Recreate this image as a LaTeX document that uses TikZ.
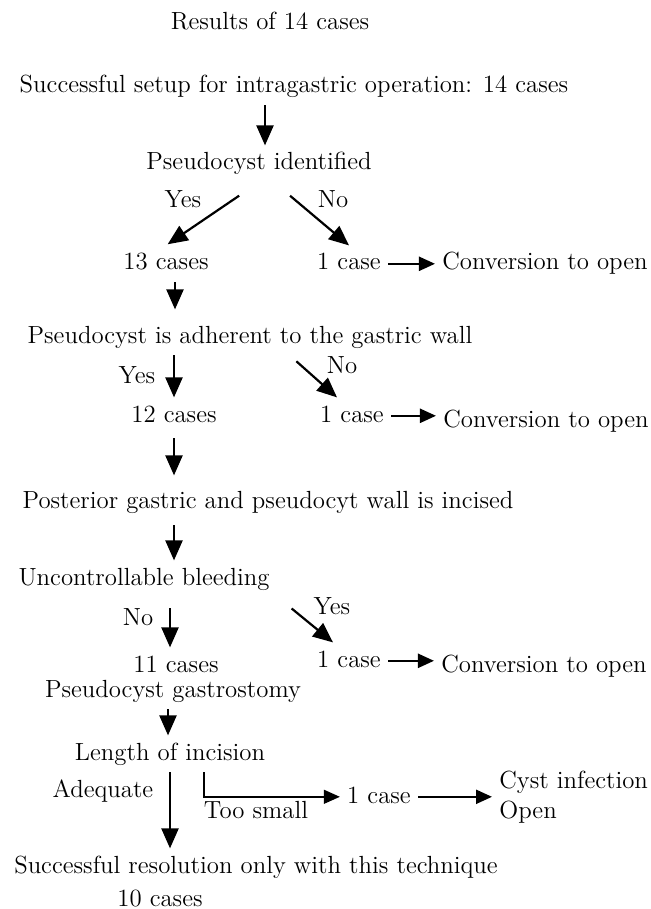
\documentclass[tikz,border=0pt]{standalone}
\usetikzlibrary{arrows.meta}
\begin{document}
\begin{tikzpicture}[x=0.5pt,y=-0.5pt,>={Triangle[length=10pt,width=8.5pt]},
  every node/.style={font=\fontsize{12.4}{15}\selectfont,inner sep=3.5pt,
    text height=8.6pt,text depth=2.4pt,anchor=base},
  arr/.style={->,line width=1.1pt},
  harr/.style={-{Triangle[length=8pt,width=7pt]},line width=1.1pt},
  thin arr/.style={-{Triangle[length=8pt,width=7pt]},line width=0.7pt}]
\useasboundingbox (0,0) rectangle (651,909);
% text
\node (title) at (270,30) {Results of 14 cases};
\node (succ) at (294,93) {Successful setup for intragastric operation: 14 cases};
\node (pid) at (259,170) {Pseudocyst identified};
\node (yes1) at (183,208) {Yes};
\node (no1) at (333,208) {No};
\node (c13) at (166,270) {13 cases};
\node (one1) at (349,270) {1 case};
\node (conv1) at (545,270) {Conversion to open};
\node (adh) at (250,343) {Pseudocyst is adherent to the gastric wall};
\node (yes2) at (137,383) {Yes};
\node (no2) at (342,373) {No};
\node (c12) at (174,422) {12 cases};
\node (one2) at (352,422) {1 case};
\node (conv2) at (546,427) {Conversion to open};
\node (post) at (268,508) {Posterior gastric and pseudocyt wall is incised};
\node (bleed) at (144,585) {Uncontrollable bleeding};
\node (no3) at (138,625) {No};
\node (yes3) at (332,614) {Yes};
\node (c11) at (176,672) {11 cases};
\node (one3) at (349,667) {1 case};
\node (conv3) at (544,672) {Conversion to open};
\node (gast) at (173,697) {Pseudocyst gastrostomy};
\node (len) at (170,760) {Length of incision};
\node (adeq) at (103,797) {Adequate};
\node (small) at (256,818) {Too small};
\node (one4) at (379,803) {1 case};
\node[anchor=base west] (cyst) at (492,788) {Cyst infection};
\node[anchor=base west] (open) at (492,818) {Open};
\node (res) at (256,873) {Successful resolution only with this technique};
\node (c10) at (160,906) {10 cases};
% arrows
\draw[arr] ([xshift=3pt]pid.north |- succ.south) -- ([xshift=3pt]pid.north);
\draw[arr,shorten <=12pt,shorten >=1pt] (pid.south) -- (c13.north);
\draw[arr,shorten <=10.5pt] ([xshift=7.5pt]pid.south) -- (one1.north);
\draw[harr] (one1.east) -- (one1.east -| conv1.west);
\draw[arr,shorten >=4.5pt] ([xshift=4.5pt]c13.south) -- ([xshift=4.5pt]c13.south |- adh.north);
\draw[arr] (c12.north |- adh.south) -- (c12.north);
\draw[arr,shorten <=4.6pt] ([xshift=19.75pt]adh.south) -- ([xshift=-7.5pt]one2.north);
\draw[harr] (one2.east) -- (one2.east -| conv2.west);
\draw[arr,shorten <=2pt,shorten >=4pt] (c12.south) -- (c12.south |- post.north);
\draw[arr,shorten <=2.5pt] ([xshift=15pt]bleed.north |- post.south) -- ([xshift=15pt]bleed.north);
\draw[arr,shorten <=5.5pt] ([xshift=-3pt]c11.north |- bleed.south) -- ([xshift=-3pt]c11.north);
\draw[arr,shorten <=8.9pt] ([xshift=0.5pt]bleed.south east) -- ([xshift=-8pt]one3.north);
\draw[harr] (one3.east) -- (one3.east -| conv3.west);
\draw[arr] ([xshift=-1pt]len.north |- gast.south) -- ([xshift=-1pt]len.north);
\draw[arr] (len.south) -- (len.south |- res.north);
\draw[thin arr] ([xshift=17pt]len.south) |- (one4.west);
\draw[harr] (one4.east) -- (one4.east -| cyst.west);
\end{tikzpicture}
\end{document}
